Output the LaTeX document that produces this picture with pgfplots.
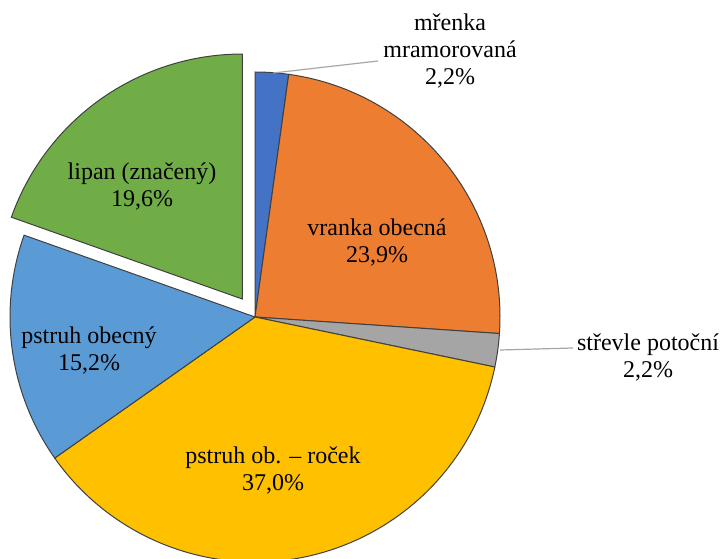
\documentclass[border=0pt]{standalone}
\usepackage{pgfplots}
\pgfplotsset{compat=1.18}
\usepackage{fontspec}
\setmainfont{Liberation Serif}
\definecolor{cBlue}{HTML}{4472C4}
\definecolor{cOrange}{HTML}{ED7D31}
\definecolor{cGray}{HTML}{A5A5A5}
\definecolor{cYellow}{HTML}{FFC000}
\definecolor{cLBlue}{HTML}{5B9BD5}
\definecolor{cGreen}{HTML}{70AD47}
\begin{document}
\begin{tikzpicture}
% data (percent)
\def\vA{2.2}  % mrenka mramorovana
\def\vB{23.9} % vranka obecna
\def\vC{2.2}  % strevle potocni
\def\vD{37.0} % pstruh ob. - rocek
\def\vE{15.2} % pstruh obecny
\def\vF{19.6} % lipan (znaceny)
\pgfmathsetmacro\tot{\vA+\vB+\vC+\vD+\vE+\vF}
\pgfmathsetmacro\aA{90}
\pgfmathsetmacro\aB{\aA-360*\vA/\tot}
\pgfmathsetmacro\aC{\aB-360*\vB/\tot}
\pgfmathsetmacro\aD{\aC-360*\vC/\tot}
\pgfmathsetmacro\aE{\aD-360*\vD/\tot}
\pgfmathsetmacro\aF{\aE-360*\vE/\tot}
\pgfmathsetmacro\aG{\aF-360*\vF/\tot}
\pgfmathsetmacro\mF{(\aF+\aG)/2}
\pgfmathsetmacro\ox{22*cos(\mF)}
\pgfmathsetmacro\oy{22*sin(\mF)}
\def\R{245}
\def\Rpt{122.5pt}
\begin{axis}[
  scale only axis, width=361pt, height=279pt,
  xmin=-255, xmax=467, ymin=-241, ymax=317,
  hide axis, clip=false,
]
\tikzset{wedge/.style={draw=black!75, line width=0.5pt}}
\fill[wedge, fill=cBlue] (axis cs:0,0) -- (axis cs:{\R*cos(\aA)},{\R*sin(\aA)}) arc[start angle=\aA, end angle=\aB, radius=\Rpt] -- cycle;
\fill[wedge, fill=cOrange] (axis cs:0,0) -- (axis cs:{\R*cos(\aB)},{\R*sin(\aB)}) arc[start angle=\aB, end angle=\aC, radius=\Rpt] -- cycle;
\fill[wedge, fill=cGray] (axis cs:0,0) -- (axis cs:{\R*cos(\aC)},{\R*sin(\aC)}) arc[start angle=\aC, end angle=\aD, radius=\Rpt] -- cycle;
\fill[wedge, fill=cYellow] (axis cs:0,0) -- (axis cs:{\R*cos(\aD)},{\R*sin(\aD)}) arc[start angle=\aD, end angle=\aE, radius=\Rpt] -- cycle;
\fill[wedge, fill=cLBlue] (axis cs:0,0) -- (axis cs:{\R*cos(\aE)},{\R*sin(\aE)}) arc[start angle=\aE, end angle=\aF, radius=\Rpt] -- cycle;
\fill[wedge, fill=cGreen] (axis cs:\ox,\oy) -- (axis cs:{\ox+\R*cos(\aF)},{\oy+\R*sin(\aF)}) arc[start angle=\aF, end angle=\aG, radius=\Rpt] -- cycle;
% leader lines
\draw[black!35, line width=0.6pt] (axis cs:18,244) -- (axis cs:123,256);
\draw[black!35, line width=0.6pt] (axis cs:245,-33) -- (axis cs:318,-31);
% labels
\tikzset{lab/.style={align=center, font=\fontsize{12}{13.5}\selectfont, inner sep=0pt}}
\node[lab] at (axis cs:-113,131) {lipan (značený)\\19,6\%};
\node[lab] at (axis cs:122,74) {vranka obecná\\23,9\%};
\node[lab] at (axis cs:-166,-33) {pstruh obecný\\15,2\%};
\node[lab] at (axis cs:18,-153) {pstruh ob. – roček\\37,0\%};
\node[lab] at (axis cs:195,266) {mřenka\\mramorovaná\\2,2\%};
\node[lab] at (axis cs:393,-40) {střevle potoční\\2,2\%};
\end{axis}
\pgfresetboundingbox
\path (current axis.south west) rectangle (current axis.north east);
\end{tikzpicture}
\end{document}
